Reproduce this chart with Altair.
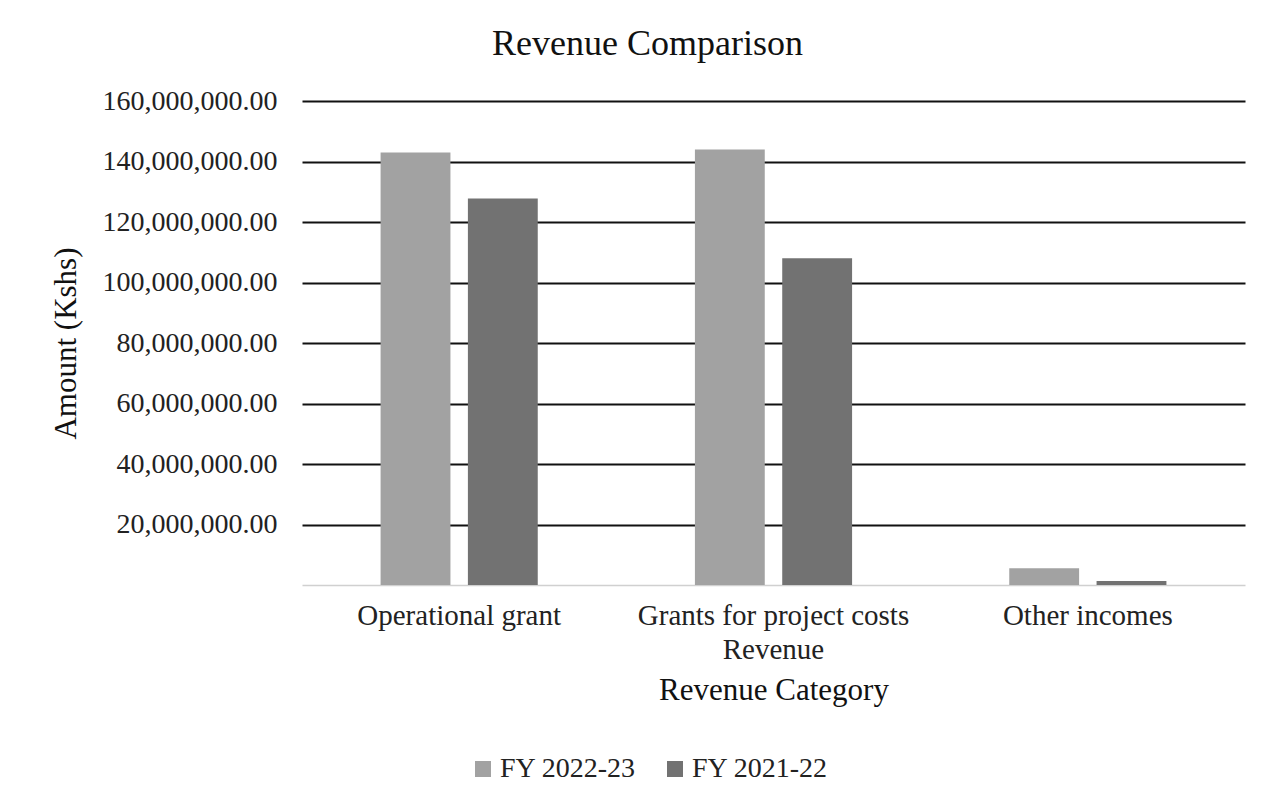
import altair as alt
import pandas as pd

categories = ["Operational grant", "Grants for project costs Revenue", "Other incomes"]
series = ["FY 2022-23", "FY 2021-22"]
fy_2022_23 = [143000000, 144000000, 5500000]
fy_2021_22 = [127800000, 108000000, 1300000]
y_ticks = [0, 20000000, 40000000, 60000000, 80000000, 100000000, 120000000, 140000000, 160000000]

rows = []
for c, a, b in zip(categories, fy_2022_23, fy_2021_22):
    rows.append({"category": c, "series": series[0], "amount": a})
    rows.append({"category": c, "series": series[1], "amount": b})
df = pd.DataFrame(rows)

FONT = "Liberation Serif"

chart = (
    alt.Chart(df)
    .mark_bar()
    .encode(
        x=alt.X(
            "category:N",
            sort=categories,
            title="Revenue Category",
            scale=alt.Scale(paddingInner=0.5, paddingOuter=0.25),
            axis=alt.Axis(
                labelAngle=0,
                labelExpr="datum.label == 'Grants for project costs Revenue' ? ['Grants for project costs', 'Revenue'] : datum.label",
                labelFontSize=29,
                labelFont=FONT,
                labelColor="#222222",
                labelPadding=16,
                labelLineHeight=34,
                labelLimit=500,
                ticks=False,
                domain=True,
                domainColor="#d0d0d0",
                domainWidth=1.5,
                titleFontSize=31,
                titleFont=FONT,
                titleFontWeight="normal",
                titleColor="#111111",
                titlePadding=11,
            ),
        ),
        xOffset=alt.XOffset("series:N", sort=series, scale=alt.Scale(paddingInner=0.2)),
        y=alt.Y(
            "amount:Q",
            title="Amount (Kshs)",
            scale=alt.Scale(domain=[0, 160000000], nice=False),
            axis=alt.Axis(
                values=y_ticks,
                format=",.2f",
                labelExpr="datum.value == 0 ? '' : datum.label",
                labelFontSize=28,
                labelFont=FONT,
                labelColor="#222222",
                labelPadding=25,
                ticks=False,
                domain=False,
                grid=True,
                gridColor=alt.condition("datum.value == 0", alt.value("#ffffff"), alt.value("#111111")),
                gridWidth=2,
                titleFontSize=31,
                titleFont=FONT,
                titleFontWeight="normal",
                titleColor="#111111",
                titlePadding=20,
            ),
        ),
        color=alt.Color(
            "series:N",
            sort=series,
            scale=alt.Scale(domain=series, range=["#a2a2a2", "#727272"]),
            legend=alt.Legend(
                title=None,
                orient="none",
                direction="horizontal",
                legendX=167,
                legendY=654,
                symbolType="square",
                symbolSize=256,
                symbolStrokeWidth=0,
                labelFontSize=28,
                labelFont=FONT,
                labelColor="#222222",
                columnPadding=24,
                labelOffset=3,
            ),
        ),
    )
    .properties(
        width=943,
        height=484,
        title=alt.Title(
            "Revenue Comparison",
            fontSize=36,
            font=FONT,
            fontWeight="normal",
            color="#111111",
            anchor="middle",
            frame="bounds",
            offset=24,
        ),
        padding={"left": 50, "top": 26, "right": 20, "bottom": 10},
        background="white",
    )
    .configure_view(stroke=None)
)

chart.save("out.html", embed_options={"renderer": "svg", "actions": False})
